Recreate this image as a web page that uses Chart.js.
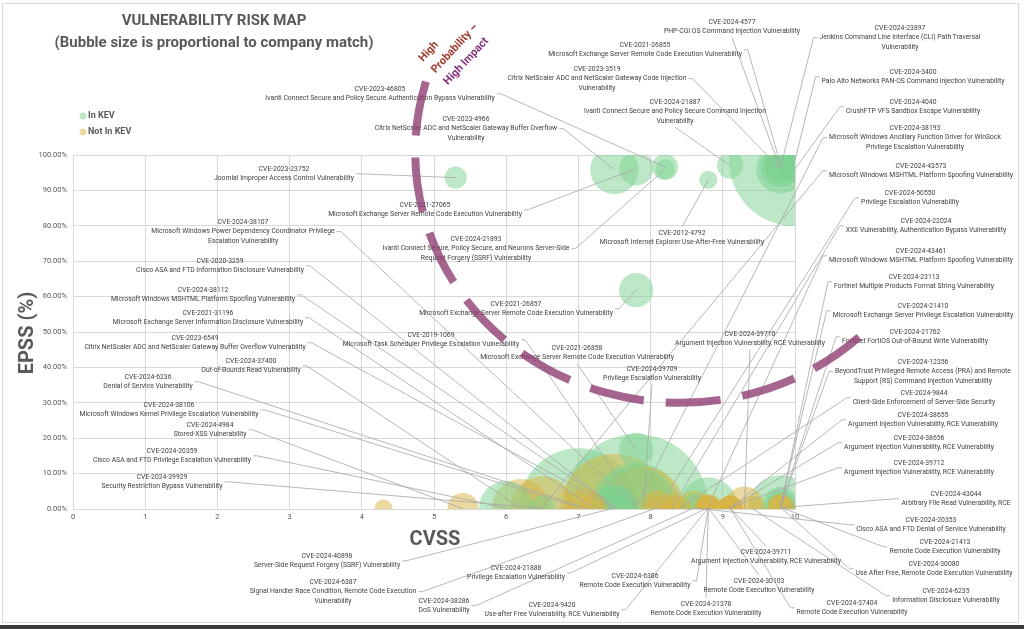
<!DOCTYPE html>
<html lang="en">
<head>
<meta charset="UTF-8">
<title>Vulnerability Risk Map</title>
<script src="https://cdn.jsdelivr.net/npm/chart.js"></script>
<style>
  html, body { margin: 0; padding: 0; background: #fff; }
  #wrap { width: 1024px; height: 629px; }
</style>
</head>
<body>
<div id="wrap"><canvas id="riskMap" width="1024" height="629"></canvas></div>
<script>
// data
const cveIds = [
  "CVE-2023-46805", "CVE-2023-4966", "CVE-2023-23752", "CVE-2021-27065", "CVE-2024-21893",
  "CVE-2012-4792", "CVE-2024-4577", "CVE-2021-26855", "CVE-2023-3519", "CVE-2024-21887",
  "CVE-2024-23897", "CVE-2024-3400", "CVE-2024-4040", "CVE-2024-38193", "CVE-2024-43573",
  "CVE-2024-50550", "CVE-2024-22024", "CVE-2024-43461", "CVE-2024-23113", "CVE-2024-21410",
  "CVE-2024-21762", "CVE-2024-12356", "CVE-2024-9844", "CVE-2024-38655", "CVE-2024-38656",
  "CVE-2024-39712", "CVE-2024-43044", "CVE-2024-20353", "CVE-2024-21413", "CVE-2024-30080",
  "CVE-2024-6235", "CVE-2024-37404", "CVE-2024-30103", "CVE-2024-39711", "CVE-2024-21378",
  "CVE-2024-6386", "CVE-2024-9420", "CVE-2024-38286", "CVE-2024-21888", "CVE-2024-6387",
  "CVE-2024-40898", "CVE-2024-38107", "CVE-2020-3259", "CVE-2024-38112", "CVE-2021-31196",
  "CVE-2023-6549", "CVE-2024-37400", "CVE-2024-6236", "CVE-2024-38106", "CVE-2024-4984",
  "CVE-2024-20359", "CVE-2024-39929", "CVE-2021-26857", "CVE-2019-1069", "CVE-2021-26858",
  "CVE-2024-39709", "CVE-2024-39710", ""
];
const cveNames = [
  "Ivanti Connect Secure and Policy Secure Authentication Bypass Vulnerability",
  "Citrix NetScaler ADC and NetScaler Gateway Buffer Overflow\nVulnerability",
  "Joomla! Improper Access Control Vulnerability",
  "Microsoft Exchange Server Remote Code Execution Vulnerability",
  "Ivanti Connect Secure, Policy Secure, and Neurons Server-Side\nRequest Forgery (SSRF) Vulnerability",
  "Microsoft Internet Explorer Use-After-Free Vulnerability",
  "PHP-CGI OS Command Injection Vulnerability",
  "Microsoft Exchange Server Remote Code Execution Vulnerability",
  "Citrix NetScaler ADC and NetScaler Gateway Code Injection\nVulnerability",
  "Ivanti Connect Secure and Policy Secure Command Injection\nVulnerability",
  "Jenkins Command Line Interface (CLI) Path Traversal\nVulnerability",
  "Palo Alto Networks PAN-OS Command Injection Vulnerability",
  "CrushFTP VFS Sandbox Escape Vulnerability",
  "Microsoft Windows Ancillary Function Driver for WinSock\nPrivilege Escalation Vulnerability",
  "Microsoft Windows MSHTML Platform Spoofing Vulnerability",
  "Privilege Escalation Vulnerability",
  "XXE Vulnerability, Authentication Bypass Vulnerability",
  "Microsoft Windows MSHTML Platform Spoofing Vulnerability",
  "Fortinet Multiple Products Format String Vulnerability",
  "Microsoft Exchange Server Privilege Escalation Vulnerability",
  "Fortinet FortiOS Out-of-Bound Write Vulnerability",
  "BeyondTrust Privileged Remote Access (PRA) and Remote\nSupport (RS) Command Injection Vulnerability",
  "Client-Side Enforcement of Server-Side Security",
  "Argument Injection Vulnerability, RCE Vulnerability",
  "Argument Injection Vulnerability, RCE Vulnerability",
  "Argument Injection Vulnerability, RCE Vulnerability",
  "Arbitrary File Read Vulnerability, RCE",
  "Cisco ASA and FTD Denial of Service Vulnerability",
  "Remote Code Execution Vulnerability",
  "Use After Free, Remote Code Execution Vulnerability",
  "Information Disclosure Vulnerability",
  "Remote Code Execution Vulnerability",
  "Remote Code Execution Vulnerability",
  "Argument Injection Vulnerability, RCE Vulnerability",
  "Remote Code Execution Vulnerability",
  "Remote Code Execution Vulnerability",
  "Use-after Free Vulnerability, RCE Vulnerability",
  "DoS Vulnerability",
  "Privilege Escalation Vulnerability",
  "Signal Handler Race Condition, Remote Code Execution\nVulnerability",
  "Server-Side Request Forgery (SSRF) Vulnerability",
  "Microsoft Windows Power Dependency Coordinator Privilege\nEscalation Vulnerability",
  "Cisco ASA and FTD Information Disclosure Vulnerability",
  "Microsoft Windows MSHTML Platform Spoofing Vulnerability",
  "Microsoft Exchange Server Information Disclosure Vulnerability",
  "Citrix NetScaler ADC and NetScaler Gateway Buffer Overflow Vulnerability",
  "Out-of-Bounds Read Vulnerability",
  "Denial of Service Vulnerability",
  "Microsoft Windows Kernel Privilege Escalation Vulnerability",
  "Stored-XSS Vulnerability",
  "Cisco ASA and FTD Privilege Escalation Vulnerability",
  "Security Restriction Bypass Vulnerability",
  "Microsoft Exchange Server Remote Code Execution Vulnerability",
  "Microsoft Task Scheduler Privilege Escalation Vulnerability",
  "Microsoft Exchange Server Remote Code Execution Vulnerability",
  "Privilege Escalation Vulnerability",
  "Argument Injection Vulnerability, RCE Vulnerability",
  ""
];
const cvssScores = [
  8.2, 7.5, 5.3, 7.8, 8.2, 8.8, 9.8, 9.8, 9.8, 9.1,
  9.8, 10, 10, 7.8, 6.5, 8.1, 8.3, 8.8, 9.8, 9.8,
  9.8, 9.8, 8.4, 9.1, 9.1, 9.1, 9.8, 8.6, 9.8, 9.8,
  9.4, 9.1, 8.8, 9.1, 8.8, 8.8, 8.8, 8.6, 8.8, 8.1,
  7.5, 7.8, 7.5, 7.5, 7.2, 7.5, 6.2, 7.1, 7.0, 5.4,
  6.0, 6.5, 7.8, 7.8, 7.8, 7.9, 9.3, 4.3
];
const epssScores = [
  96.6, 95.8, 93.6, 96.2, 96.0, 93.0, 96.0, 97.3, 96.1, 97.0,
  96.5, 98.5, 96.0, 0.8, 0.5, 0.3, 0.4, 0.8, 0.5, 1.0,
  0.7, 0.6, 0.2, 0.3, 0.3, 0.3, 0.4, 0.3, 0.5, 0.4,
  0.3, 0.3, 0.3, 0.3, 0.3, 0.3, 0.3, 0.3, 0.4, 0.4,
  0.3, 0.5, 0.4, 0.6, 0.5, 0.3, 0.3, 0.3, 0.5, 0.1,
  0.3, 0.2, 61.8, 1.2, 16.7, 0.4, 0.4, 0.1
];
const companyMatches = [
  3.5, 12, 2.5, 6, 2, 1.7, 12, 5, 4.5, 3.5,
  8, 89, 4, 106, 3, 3, 4, 17, 21, 7,
  5, 4, 3, 3, 3, 3, 4, 4, 3, 3,
  3, 3, 3, 3, 3, 2, 4, 6, 3, 6,
  60, 40, 10, 10, 4, 8, 17, 8, 71, 5,
  15, 21, 6, 30, 6, 34, 9, 1.7
];
const inKev = [
  1, 1, 1, 1, 1, 1, 1, 1, 1, 1,
  1, 1, 1, 1, 1, 0, 0, 1, 1, 1,
  1, 1, 0, 0, 0, 0, 0, 1, 0, 0,
  0, 0, 0, 0, 0, 0, 0, 0, 0, 0,
  0, 1, 1, 1, 0, 1, 0, 0, 1, 0,
  1, 0, 1, 1, 1, 0, 0, 0
];
const xTicks = [0, 1, 2, 3, 4, 5, 6, 7, 8, 9, 10];
const yTicks = [0, 10, 20, 30, 40, 50, 60, 70, 80, 90, 100];

// where each callout text sits: [centre x, first line y, side the leader leaves from]
const calloutPos = [
  [380, 89, "r"], [466, 119, "r"], [284, 169, "r"], [425, 205, "r"], [476, 239, "r"],
  [682, 233, "t"], [732, 22, "b"], [645, 45, "r"], [597, 69, "r"], [675, 102, "b"],
  [900, 28, "l"], [913, 72, "l"], [913, 102, "l"], [915, 128, "l"], [921, 166, "l"],
  [910, 193, "l"], [926, 221, "l"], [921, 251, "l"], [914, 277, "l"], [923, 306, "l"],
  [915, 332, "l"], [923, 362, "l"], [924, 393, "l"], [923, 415, "l"], [919, 438, "l"],
  [919, 463, "l"], [956, 494, "l"], [931, 520, "l"], [945, 542, "l"], [934, 564, "l"],
  [946, 591, "l"], [852, 603, "l"], [759, 581, "t"], [766, 552, "t"], [706, 604, "t"],
  [635, 576, "r"], [552, 605, "r"], [444, 601, "r"], [516, 568, "r"], [333, 582, "r"],
  [327, 556, "r"], [243, 222, "r"], [220, 261, "r"], [203, 290, "r"], [208, 313, "r"],
  [195, 338, "r"], [251, 361, "r"], [148, 377, "r"], [169, 405, "r"], [210, 425, "r"],
  [172, 451, "r"], [162, 477, "r"], [516, 304, "r"], [431, 335, "r"], [577, 348, "b"],
  [652, 369, "b"], [750, 334, "b"], null
];

const kevColor = "rgba(123, 209, 143, 0.5)";
const notKevColor = "rgba(217, 179, 65, 0.5)";
const labelGray = "#595959";

// one pass over both groups, largest bubble first, the way the spreadsheet layers them
function bubbleData() {
  const pts = cveIds.map((id, i) => ({
    x: cvssScores[i],
    y: epssScores[i],
    r: 7 * Math.sqrt(companyMatches[i]),
    kev: inKev[i] === 1
  }));
  return pts.sort((a, b) => b.r - a.r);
}

Chart.defaults.font.family = "Roboto, 'Liberation Sans', sans-serif";

const riskOverlay = {
  id: "riskOverlay",
  beforeDraw(chart) {
    const c = chart.ctx;
    c.save();
    c.fillStyle = "#fff";
    c.fillRect(0, 0, chart.width, chart.height);
    c.strokeStyle = "#d9d9d9";
    c.lineWidth = 1;
    c.strokeRect(2.5, 3.5, 1016, 619);
    c.fillStyle = "#3b3b3b";
    c.fillRect(0, 625, chart.width, 4);
    c.restore();
  },
  afterDatasetsDraw(chart) {
    const c = chart.ctx;
    const xs = chart.scales.x, ys = chart.scales.y;
    const LINE_H = 9.6;
    c.save();
    c.font = "6.8px Roboto, 'Liberation Sans', sans-serif";

    // leader lines
    c.strokeStyle = "#a6a6a6";
    c.lineWidth = 0.8;
    cveIds.forEach((id, i) => {
      const pos = calloutPos[i];
      if (!pos) return;
      const [cx, y1, side] = pos;
      const lines = [id].concat(cveNames[i].split("\n"));
      const w = Math.max(...lines.map(t => c.measureText(t).width));
      const lastY = y1 + (lines.length - 1) * LINE_H;
      const midY = (y1 + lastY) / 2;
      const tx = xs.getPixelForValue(cvssScores[i]);
      const ty = ys.getPixelForValue(epssScores[i]);
      let ax, ay, bx, by;
      if (side === "r") { ax = cx + w / 2 + 2; bx = ax + 4; ay = by = midY; }
      else if (side === "l") { ax = cx - w / 2 - 2; bx = ax - 4; ay = by = midY; }
      else if (side === "t") { ax = bx = cx; ay = y1 - 6; by = ay; }
      else { ax = bx = cx; ay = lastY + 6; by = ay; }
      c.beginPath();
      c.moveTo(ax, ay);
      c.lineTo(bx, by);
      c.lineTo(tx, ty);
      c.stroke();
    });

    // callout texts
    c.fillStyle = "#404040";
    c.textAlign = "center";
    c.textBaseline = "middle";
    cveIds.forEach((id, i) => {
      const pos = calloutPos[i];
      if (!pos) return;
      const lines = [id].concat(cveNames[i].split("\n"));
      lines.forEach((t, k) => c.fillText(t, pos[0], pos[1] + k * LINE_H));
    });

    // dashed "high probability - high impact" arc, set in data units
    const acx = xs.getPixelForValue(8.41), acy = ys.getPixelForValue(100.8);
    const arx = xs.getPixelForValue(8.41 + 3.67) - acx;
    const ary = ys.getPixelForValue(100.8 - 70.8) - acy;
    c.strokeStyle = "rgba(142, 62, 115, 0.8)";
    c.lineWidth = 8;
    c.setLineDash([55, 22]);
    c.beginPath();
    c.ellipse(acx, acy, arx, ary, 0, 3.427, 0.789, true);
    c.stroke();
    c.setLineDash([]);

    c.save();
    c.translate(423, 62);
    c.rotate(-47 * Math.PI / 180);
    c.font = "bold 11px Roboto, sans-serif";
    c.textAlign = "left";
    c.textBaseline = "alphabetic";
    c.fillStyle = "#a33b2f";
    c.fillText("High", 0, 0);
    c.fillText("Probability \u2013", 0, 17);
    c.fillStyle = "#83307a";
    c.fillText("High Impact", 0, 34);
    c.restore();

    // title
    c.fillStyle = labelGray;
    c.textAlign = "center";
    c.textBaseline = "middle";
    c.font = "bold 15px Roboto, sans-serif";
    c.fillText("VULNERABILITY RISK MAP", 214, 21);
    c.fillText("(Bubble size is proportional to company match)", 214, 43);

    // legend
    c.font = "bold 9px Roboto, sans-serif";
    c.textAlign = "left";
    [["In KEV", kevColor, 116], ["Not In KEV", notKevColor, 132]].forEach(([txt, col, y]) => {
      c.fillStyle = col;
      c.beginPath();
      c.arc(83, y, 3.5, 0, Math.PI * 2);
      c.fill();
      c.fillStyle = labelGray;
      c.fillText(txt, 88, y);
    });

    // axis titles
    c.font = "bold 20px Roboto, sans-serif";
    c.textAlign = "center";
    c.fillText("CVSS", 435, 540);
    c.save();
    c.translate(28, 333);
    c.rotate(-Math.PI / 2);
    c.fillText("EPSS (%)", 0, 0);
    c.restore();

    c.restore();
  }
};

new Chart(document.getElementById("riskMap"), {
  type: "bubble",
  data: {
    datasets: [{
      label: "CVEs",
      data: bubbleData(),
      backgroundColor: ctx => (ctx.raw && ctx.raw.kev ? kevColor : notKevColor),
      borderWidth: 0,
      clip: 0
    }]
  },
  options: {
    responsive: false,
    animation: false,
    layout: { padding: { top: 155, right: 229, bottom: 0, left: 0 } },
    plugins: { legend: { display: false }, tooltip: { enabled: false } },
    scales: {
      x: {
        type: "linear",
        min: xTicks[0],
        max: xTicks[xTicks.length - 1],
        afterBuildTicks: s => { s.ticks = xTicks.map(v => ({ value: v })); },
        afterFit: s => { s.height = 120; },
        ticks: { color: labelGray, font: { size: 7.5 }, padding: 4, maxRotation: 0 },
        grid: { color: "#d9d9d9", drawTicks: false },
        border: { color: "#d9d9d9" }
      },
      y: {
        type: "linear",
        min: yTicks[0],
        max: yTicks[yTicks.length - 1],
        afterBuildTicks: s => { s.ticks = yTicks.map(v => ({ value: v })); },
        afterFit: s => { s.width = 73; },
        ticks: { color: labelGray, font: { size: 7.5 }, padding: 6, callback: v => v.toFixed(2) + "%" },
        grid: { color: "#d9d9d9", drawTicks: false },
        border: { color: "#d9d9d9" }
      }
    }
  },
  plugins: [riskOverlay]
});
</script>
</body>
</html>
